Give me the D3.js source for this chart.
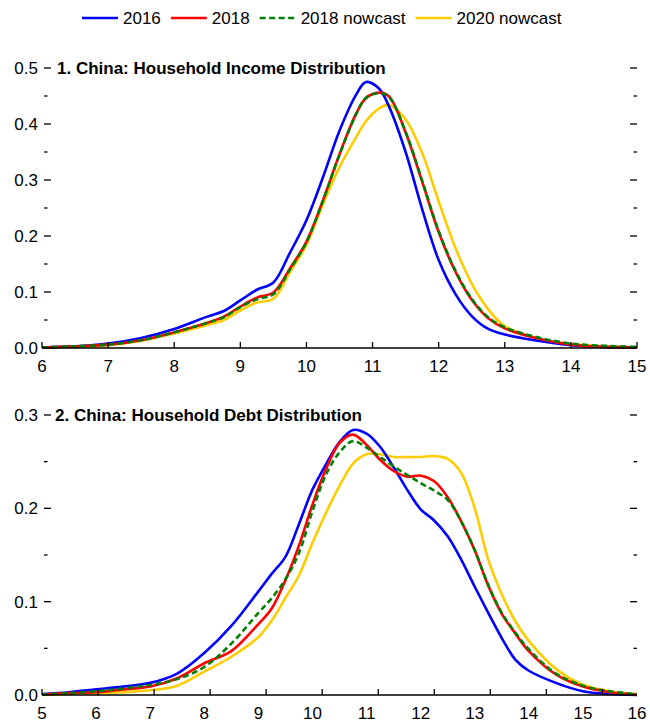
<!DOCTYPE html>
<html>
<head>
<meta charset="utf-8">
<script src="https://cdn.jsdelivr.net/npm/d3@7"></script>
<style>
  body { margin: 0; background: #fff; }
  text { font-family: "Liberation Sans", Arial, sans-serif; fill: #000; }
</style>
</head>
<body>
<svg id="chart" width="650" height="724"></svg>
<script>
// ---- series definitions ----
const seriesNames  = ["2016", "2018", "2018 nowcast", "2020 nowcast"];
const seriesColors = ["#0000ff", "#ff0000", "#008000", "#ffcc00"];
const seriesDash   = [null, null, "6,3.5", null];
const drawOrder    = [3, 0, 1, 2];

// ---- panel 1: household income (log scale) density ----
const incomeX = [6, 6.5, 7, 7.5, 8, 8.5, 8.75, 9, 9.25, 9.5, 9.75, 10, 10.25, 10.5, 10.75,
                 10.9, 11.1, 11.25, 11.5, 11.75, 12, 12.25, 12.5, 12.75, 13, 13.5, 14, 14.5, 15];
const income2016 = [0.001, 0.003, 0.008, 0.018, 0.034, 0.056, 0.066, 0.085, 0.104, 0.117, 0.170, 0.228, 0.305, 0.388, 0.452,
                    0.475, 0.463, 0.431, 0.350, 0.248, 0.157, 0.097, 0.057, 0.034, 0.024, 0.013, 0.005, 0.002, 0.001];
const income2018 = [0.001, 0.003, 0.006, 0.014, 0.028, 0.045, 0.056, 0.074, 0.090, 0.099, 0.142, 0.190, 0.264, 0.346, 0.418,
                    0.446, 0.456, 0.449, 0.385, 0.297, 0.207, 0.137, 0.086, 0.053, 0.035, 0.017, 0.006, 0.002, 0.001];
const income2018Now = [0.001, 0.003, 0.006, 0.014, 0.028, 0.045, 0.055, 0.073, 0.087, 0.096, 0.140, 0.189, 0.263, 0.345, 0.417,
                       0.447, 0.455, 0.448, 0.386, 0.299, 0.209, 0.139, 0.088, 0.055, 0.037, 0.019, 0.008, 0.004, 0.002];
const income2020Now = [0.001, 0.002, 0.005, 0.013, 0.026, 0.041, 0.050, 0.067, 0.081, 0.088, 0.135, 0.184, 0.257, 0.323, 0.376,
                       0.405, 0.428, 0.434, 0.408, 0.348, 0.262, 0.180, 0.115, 0.069, 0.039, 0.017, 0.007, 0.003, 0.001];
const incomeXTicks = [6, 7, 8, 9, 10, 11, 12, 13, 14, 15];
const incomeYMajor = [0, 0.1, 0.2, 0.3, 0.4, 0.5];
const incomeYMinor = [0.05, 0.15, 0.25, 0.35, 0.45];
const incomeTitle = "1. China: Household Income Distribution";

// ---- panel 2: household debt (log scale) density ----
const debtX = [5, 5.5, 6, 6.5, 7, 7.5, 8, 8.5, 9, 9.25, 9.5, 9.75, 10, 10.25, 10.5, 10.75, 11,
               11.25, 11.5, 11.75, 12, 12.25, 12.5, 12.75, 13, 13.25, 13.5, 13.75, 14, 14.5, 15, 15.5, 16];
const debt2016 = [0.001, 0.003, 0.006, 0.009, 0.013, 0.023, 0.045, 0.074, 0.111, 0.130, 0.148, 0.183, 0.220, 0.247, 0.271, 0.284, 0.280,
                  0.266, 0.244, 0.220, 0.199, 0.187, 0.170, 0.145, 0.116, 0.088, 0.061, 0.038, 0.026, 0.013, 0.004, 0.001, 0.000];
const debt2018 = [0.0005, 0.002, 0.003, 0.006, 0.009, 0.018, 0.034, 0.047, 0.076, 0.093, 0.123, 0.160, 0.204, 0.242, 0.270, 0.279, 0.268,
                  0.252, 0.240, 0.234, 0.235, 0.229, 0.212, 0.186, 0.155, 0.117, 0.087, 0.066, 0.047, 0.022, 0.009, 0.003, 0.0005];
const debt2018Now = [0.0005, 0.002, 0.004, 0.007, 0.011, 0.017, 0.030, 0.055, 0.088, 0.104, 0.124, 0.152, 0.197, 0.236, 0.260, 0.272, 0.265,
                     0.255, 0.245, 0.236, 0.227, 0.219, 0.209, 0.186, 0.155, 0.118, 0.088, 0.067, 0.049, 0.023, 0.010, 0.004, 0.001];
const debt2020Now = [0.000, 0.001, 0.002, 0.003, 0.005, 0.010, 0.025, 0.041, 0.062, 0.080, 0.104, 0.128, 0.163, 0.195, 0.224, 0.248, 0.258,
                     0.258, 0.255, 0.255, 0.255, 0.256, 0.253, 0.238, 0.200, 0.145, 0.108, 0.079, 0.058, 0.028, 0.011, 0.004, 0.001];
const debtXLabels = [5, 6, 7, 8, 9, 10, 11, 12, 13, 14, 15, 16];
const debtTickStep = 1.036;   // tick marks run on a slightly wider step than the labels
const debtTickCount = 11;
const debtYMajor = [0, 0.1, 0.2, 0.3];
const debtYMinor = [0.05, 0.15, 0.25];
const debtTitle = "2. China: Household Debt Distribution";

// ---- layout ----
const svg = d3.select("#chart");
const left = 42, right = 637;
const FONT = 17;

const panels = [
  { top: 68, bottom: 348, xDomain: [6, 15], yDomain: [0, 0.5], x: incomeX,
    series: [income2016, income2018, income2018Now, income2020Now],
    tickVals: incomeXTicks, labelVals: incomeXTicks,
    yMajor: incomeYMajor, yMinor: incomeYMinor, title: incomeTitle, titleX: 57 },
  { top: 415, bottom: 695, xDomain: [5, 16], yDomain: [0, 0.3], x: debtX,
    series: [debt2016, debt2018, debt2018Now, debt2020Now],
    tickVals: d3.range(debtTickCount).map(k => 5 + k * debtTickStep), labelVals: debtXLabels,
    yMajor: debtYMajor, yMinor: debtYMinor, title: debtTitle, titleX: 55 }
];

panels.forEach(p => {
  const x = d3.scaleLinear().domain(p.xDomain).range([left, right]);
  const y = d3.scaleLinear().domain(p.yDomain).range([p.bottom, p.top]);
  const g = svg.append("g");

  // curves
  const line = d3.line().x(d => x(d[0])).y(d => y(d[1])).curve(d3.curveCatmullRom.alpha(0.5));
  drawOrder.forEach(i => {
    const pts = p.x.map((v, j) => [v, p.series[i][j]]);
    g.append("path")
      .attr("d", line(pts))
      .attr("fill", "none")
      .attr("stroke", seriesColors[i])
      .attr("stroke-width", 2.6)
      .attr("stroke-linejoin", "round")
      .attr("stroke-dasharray", seriesDash[i]);
  });

  // bottom axis line with inward ticks
  g.append("line").attr("x1", left).attr("x2", right)
    .attr("y1", y(0)).attr("y2", y(0))
    .attr("stroke", "#000").attr("stroke-width", 1.5);
  g.selectAll(null).data(p.tickVals).enter().append("line")
    .attr("x1", d => x(d)).attr("x2", d => x(d))
    .attr("y1", y(0)).attr("y2", y(0) - 6)
    .attr("stroke", "#000").attr("stroke-width", 1.3);
  g.selectAll(null).data(p.labelVals).enter().append("text")
    .attr("x", d => x(d)).attr("y", y(0) + 24)
    .attr("text-anchor", "middle").attr("font-size", FONT)
    .text(d => d);

  // y ticks on both sides (no vertical axis line)
  const tk = (vals, len, side) => g.selectAll(null).data(vals).enter().append("line")
    .attr("x1", side === "l" ? left + 2 : right - len)
    .attr("x2", side === "l" ? left + 2 + len : right)
    .attr("y1", d => y(d)).attr("y2", d => y(d))
    .attr("stroke", "#000").attr("stroke-width", 1.3);
  tk(p.yMajor.filter(v => v > 0), 7, "l");
  tk(p.yMinor, 3.5, "l");
  tk(p.yMajor.filter(v => v > 0), 7, "r");
  tk(p.yMinor, 3.5, "r");

  g.selectAll(null).data(p.yMajor).enter().append("text")
    .attr("x", left - 4).attr("y", d => y(d)).attr("dy", "0.36em")
    .attr("text-anchor", "end").attr("font-size", FONT)
    .text(d => d3.format(".1f")(d));

  // panel title
  g.append("text")
    .attr("x", p.titleX).attr("y", y(p.yDomain[1])).attr("dy", "0.36em")
    .attr("font-size", FONT).attr("font-weight", "bold")
    .text(p.title);
});

// ---- legend ----
const legend = svg.append("g");
let lx = 82;
const ly = 18;
seriesNames.forEach((name, i) => {
  legend.append("line")
    .attr("x1", lx).attr("x2", lx + 36).attr("y1", ly).attr("y2", ly)
    .attr("stroke", seriesColors[i]).attr("stroke-width", 2.6)
    .attr("stroke-dasharray", seriesDash[i]);
  const t = legend.append("text")
    .attr("x", lx + 41).attr("y", ly).attr("dy", "0.36em")
    .attr("font-size", FONT).text(name);
  lx = lx + 41 + t.node().getComputedTextLength() + 10;
});
</script>
</body>
</html>
